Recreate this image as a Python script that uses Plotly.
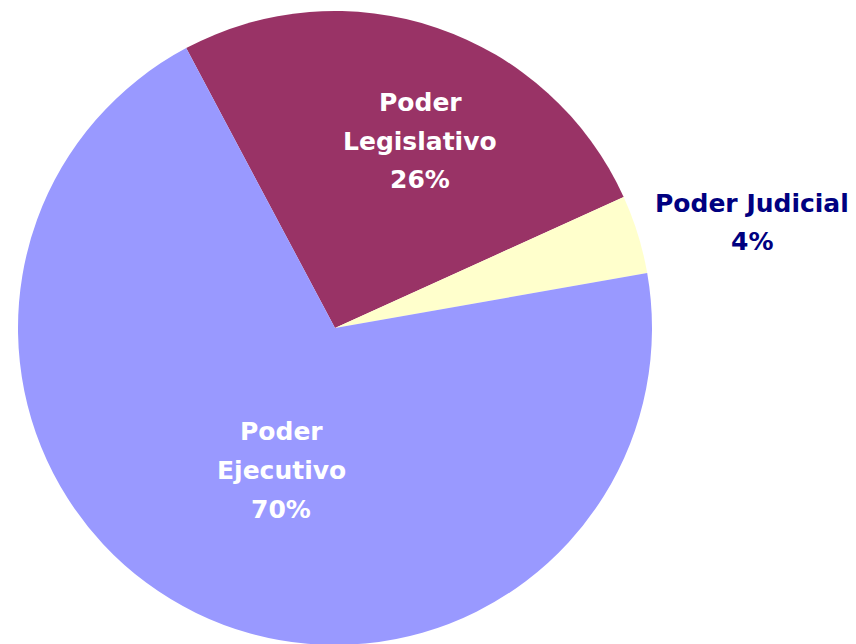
import plotly.graph_objects as go

labels = ["Poder Legislativo", "Poder Judicial", "Poder Ejecutivo"]
values = [26, 4, 70]
colors = ["#993366", "#FFFFCC", "#9999FF"]
# label line breaks as shown on the chart
label_lines = [["Poder", "Legislativo"], ["Poder Judicial"], ["Poder", "Ejecutivo"]]
label_colors = ["white", "#000080", "white"]
# label anchor positions in figure pixels (center x, first-line y)
label_pos = [(412, 94), (744, 195), (273, 423)]

W, H = 856, 644
cx, cy, r = 327, 320, 317
fig = go.Figure()
fig.add_trace(go.Pie(
    labels=labels, values=values, sort=False, direction="clockwise",
    rotation=-28, marker=dict(colors=colors, line=dict(width=0)),
    textinfo="none", hoverinfo="label+percent", showlegend=False,
    domain=dict(x=[(cx - r) / W, (cx + r) / W],
                y=[(H - cy - r) / H, (H - cy + r) / H]),
))

line_gap = 39
for lines, v, col, (px, py) in zip(label_lines, values, label_colors, label_pos):
    all_lines = lines + [f"{v}%"]
    for i, t in enumerate(all_lines):
        fig.add_annotation(
            x=px / W, y=1 - (py + i * line_gap) / H, xref="paper", yref="paper",
            text=t, showarrow=False, xanchor="center", yanchor="middle",
            font=dict(family="DejaVu Sans", size=25, color=col, weight="bold"),
        )

fig.update_layout(
    width=W, height=H, margin=dict(l=0, r=0, t=0, b=0),
    paper_bgcolor="white", plot_bgcolor="white",
)
fig.write_html("out.html")
